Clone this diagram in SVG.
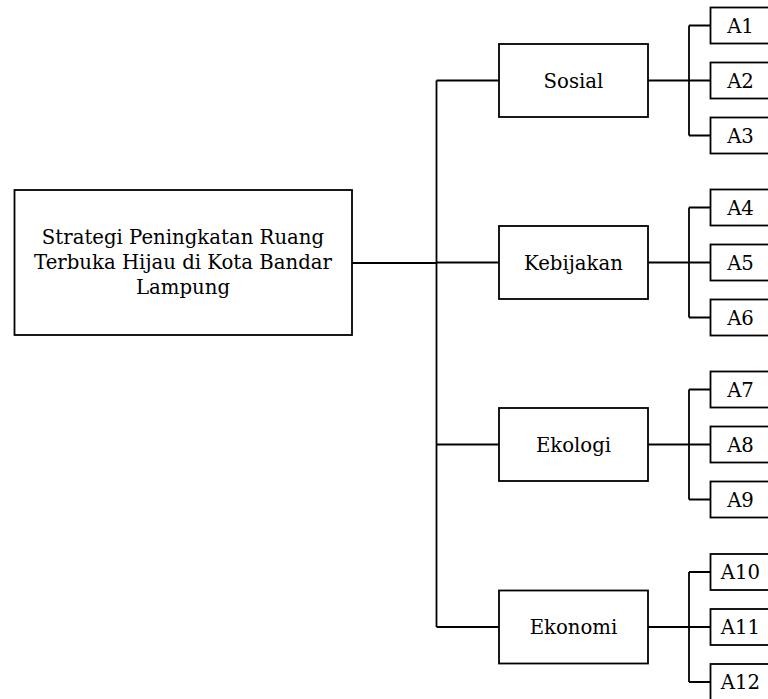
<svg xmlns="http://www.w3.org/2000/svg" width="768" height="699" viewBox="0 0 768 699">
<style>
.box{fill:#fff;stroke:#000;stroke-width:1.8}
.ln{fill:none;stroke:#000;stroke-width:1.8}
text{font-family:"DejaVu Serif","Liberation Serif",serif;font-size:19.7px;fill:#000;text-anchor:middle}
</style>
<rect width="768" height="699" fill="#fff"/>
<g id="connectors">
<path class="ln" d="M352 263H436.5M436.5 80.5V627M436.5 80.5H499M436.5 262.5H499M436.5 444.5H499M436.5 627H499"/>
<path class="ln" d="M648 80.5H710.5M689 25.5V135.5M689 25.5H710.5M689 135.5H710.5"/>
<path class="ln" d="M648 262.5H710.5M689 207.5V317.5M689 207.5H710.5M689 317.5H710.5"/>
<path class="ln" d="M648 444.5H710.5M689 389.5V499.5M689 389.5H710.5M689 499.5H710.5"/>
<path class="ln" d="M648 627H710.5M689 572V682M689 572H710.5M689 682H710.5"/>
</g>
<g id="root"><rect class="box" x="14.5" y="190" width="337.5" height="145"/>
<text x="183" y="243.5">Strategi Peningkatan Ruang</text>
<text x="183" y="268.5">Terbuka Hijau di Kota Bandar</text>
<text x="183" y="293.5">Lampung</text></g>
<g id="sosial"><rect class="box" x="499" y="44" width="149" height="73"/><text x="573.5" y="87.5">Sosial</text></g>
<g id="kebijakan"><rect class="box" x="499" y="226" width="149" height="73"/><text x="573.5" y="269.5">Kebijakan</text></g>
<g id="ekologi"><rect class="box" x="499" y="408" width="149" height="73"/><text x="573.5" y="451.5">Ekologi</text></g>
<g id="ekonomi"><rect class="box" x="499" y="590.5" width="149" height="73"/><text x="573.5" y="634">Ekonomi</text></g>
<g id="A1"><rect class="box" x="710.5" y="7.5" width="60" height="36"/><text x="740.5" y="32.5">A1</text></g>
<g id="A2"><rect class="box" x="710.5" y="62.5" width="60" height="36"/><text x="740.5" y="87.5">A2</text></g>
<g id="A3"><rect class="box" x="710.5" y="117.5" width="60" height="36"/><text x="740.5" y="142.5">A3</text></g>
<g id="A4"><rect class="box" x="710.5" y="189.5" width="60" height="36"/><text x="740.5" y="214.5">A4</text></g>
<g id="A5"><rect class="box" x="710.5" y="244.5" width="60" height="36"/><text x="740.5" y="269.5">A5</text></g>
<g id="A6"><rect class="box" x="710.5" y="299.5" width="60" height="36"/><text x="740.5" y="324.5">A6</text></g>
<g id="A7"><rect class="box" x="710.5" y="371.5" width="60" height="36"/><text x="740.5" y="396.5">A7</text></g>
<g id="A8"><rect class="box" x="710.5" y="426.5" width="60" height="36"/><text x="740.5" y="451.5">A8</text></g>
<g id="A9"><rect class="box" x="710.5" y="481.5" width="60" height="36"/><text x="740.5" y="506.5">A9</text></g>
<g id="A10"><rect class="box" x="710.5" y="554" width="60" height="36"/><text x="740.5" y="579">A10</text></g>
<g id="A11"><rect class="box" x="710.5" y="609" width="60" height="36"/><text x="740.5" y="634">A11</text></g>
<g id="A12"><rect class="box" x="710.5" y="664" width="60" height="36"/><text x="740.5" y="689">A12</text></g>
</svg>
